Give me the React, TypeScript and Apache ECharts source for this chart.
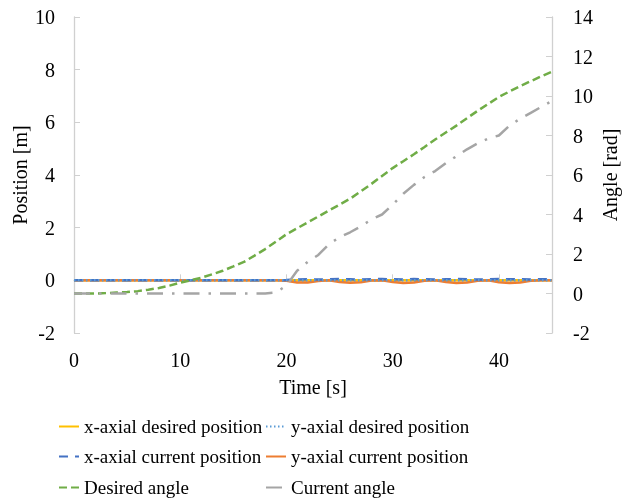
import React, { useEffect, useRef } from "react";
import * as echarts from "echarts";

const times = [0,1,2,3,4,5,6,7,8,9,10,11,12,13,14,15,16,17,18,19,20,21,22,23,24,25,26,27,28,29,30,31,32,33,34,35,36,37,38,39,40,41,42,43,44,45];

const xDesired = times.map(() => 0);
const yDesired = times.map(() => 0);
const xCurrent = [0,0,0,0,0,0,0,0,0,0,0,0,0,0,0,0,0,0,0,0,0.01,0.03,0.04,0.03,0.04,0.05,0.04,0.03,0.04,0.05,0.04,0.03,0.05,0.04,0.03,0.04,0.05,0.04,0.03,0.04,0.05,0.04,0.04,0.03,0.04,0.05];
const yCurrent = [0,0,0,0,0,0,0,0,0,0,0,0,0,0,0,0,0,0,0,0,-0.02,-0.08,-0.08,-0.03,0,-0.06,-0.09,-0.07,-0.01,0,-0.06,-0.1,-0.08,-0.02,0,-0.06,-0.1,-0.08,-0.02,0,-0.07,-0.1,-0.08,-0.02,0,0];
const desiredAngle = [0,0,0,0.02,0.05,0.08,0.12,0.19,0.28,0.4,0.55,0.67,0.8,0.97,1.15,1.37,1.6,1.92,2.25,2.62,3.0,3.3,3.6,3.9,4.2,4.5,4.8,5.17,5.55,5.95,6.35,6.7,7.05,7.42,7.8,8.15,8.5,8.88,9.25,9.6,9.95,10.23,10.5,10.75,11.0,11.23];
const currentAngle = [0,0,0,0,0,0,0,0,0,0,0,0,0,0,0,0,0,0,0,0.05,0.4,1.15,1.6,1.95,2.5,2.85,3.1,3.4,3.75,4.0,4.5,5.05,5.5,5.9,6.2,6.6,6.95,7.3,7.6,7.85,8.0,8.5,8.85,9.15,9.45,9.75];

const leftTicks = { min: -2, max: 10, interval: 2 };
const rightTicks = { min: -2, max: 14, interval: 2 };
const xTicks = { min: 0, max: 45, interval: 10 };

const names = [
  "x-axial desired position",
  "y-axial desired position",
  "x-axial current position",
  "y-axial current position",
  "Desired angle",
  "Current angle",
];

const FONT = "'Liberation Serif', 'Times New Roman', 'DejaVu Serif', serif";
const AXIS_COLOR = "#d0d0d0";

const pairs = (vals: number[]) => times.map((t, i) => [t, vals[i]]);

export default function App() {
  const ref = useRef<HTMLDivElement>(null);
  useEffect(() => {
    if (!ref.current) return;
    const chart = echarts.init(ref.current, undefined, { renderer: "svg" });
    const legendPos = [
      [58, 417], [265, 417],
      [58, 447], [265, 447],
      [58, 478], [265, 478],
    ];
    const legends = names.map((n, i) => ({
      data: [n],
      left: legendPos[i][0],
      top: legendPos[i][1],
      padding: 0,
      itemWidth: 20,
      itemHeight: 14,
      itemStyle: { opacity: 0 },
      textStyle: { fontFamily: FONT, fontSize: 19, color: "#000" },
    }));
    const mk = (name: string, data: number[], color: string, type: any, yAxisIndex: number, z: number) => ({
      name,
      type: "line",
      data: pairs(data),
      yAxisIndex,
      symbol: "none",
      showSymbol: false,
      z,
      lineStyle: { color, width: 2.5, type },
      itemStyle: { color },
    });
    chart.setOption({
      animation: false,
      grid: { left: 74, right: 70, top: 17, bottom: 169, containLabel: false, outerBoundsMode: "none" },
      legend: legends,
      xAxis: {
        type: "value",
        min: xTicks.min,
        max: xTicks.max,
        interval: xTicks.interval,
        name: "Time [s]",
        nameLocation: "middle",
        nameGap: 44,
        nameMoveOverlap: false,
        nameTextStyle: { fontFamily: FONT, fontSize: 20, color: "#000" },
        axisLine: { show: true, lineStyle: { color: AXIS_COLOR, width: 1.3 } },
        axisTick: { show: true, inside: true, length: 6, lineStyle: { color: AXIS_COLOR } },
        axisLabel: { fontFamily: FONT, fontSize: 20, color: "#000", margin: 17, showMaxLabel: false },
        splitLine: { show: false },
      },
      yAxis: [
        {
          type: "value",
          min: leftTicks.min,
          max: leftTicks.max,
          interval: leftTicks.interval,
          name: "Position [m]",
          nameLocation: "middle",
          nameRotate: 90,
          nameGap: 44,
          nameMoveOverlap: false,
          nameTextStyle: { fontFamily: FONT, fontSize: 20, color: "#000" },
          axisLine: { show: true, lineStyle: { color: AXIS_COLOR, width: 1.3 } },
          axisTick: { show: true, inside: true, length: 6, lineStyle: { color: AXIS_COLOR } },
          axisLabel: { fontFamily: FONT, fontSize: 20, color: "#000", margin: 19 },
          splitLine: { show: false },
        },
        {
          type: "value",
          position: "right",
          min: rightTicks.min,
          max: rightTicks.max,
          interval: rightTicks.interval,
          name: "Angle [rad]",
          nameLocation: "middle",
          nameRotate: 90,
          nameGap: 48,
          nameMoveOverlap: false,
          nameTextStyle: { fontFamily: FONT, fontSize: 20, color: "#000" },
          axisLine: { show: true, lineStyle: { color: AXIS_COLOR, width: 1.3 } },
          axisTick: { show: true, inside: true, length: 6, lineStyle: { color: AXIS_COLOR } },
          axisLabel: { fontFamily: FONT, fontSize: 20, color: "#000", margin: 21 },
          splitLine: { show: false },
        },
      ],
      series: [
        mk(names[0], xDesired, "#FFC000", "solid", 0, 2),
        mk(names[1], yDesired, "#5B9BD5", [1.5, 2.5], 0, 5),
        mk(names[2], xCurrent, "#4472C4", [9, 7], 0, 4),
        mk(names[3], yCurrent, "#ED7D31", "solid", 0, 3),
        mk(names[4], desiredAngle, "#70AD47", [8, 4], 1, 6),
        mk(names[5], currentAngle, "#A5A5A5", [16, 9, 2.5, 9], 1, 6),
      ],
    });
    return () => chart.dispose();
  }, []);
  return <div ref={ref} style={{ position: "fixed", left: 0, top: 0, width: 622, height: 502 }} />;
}
